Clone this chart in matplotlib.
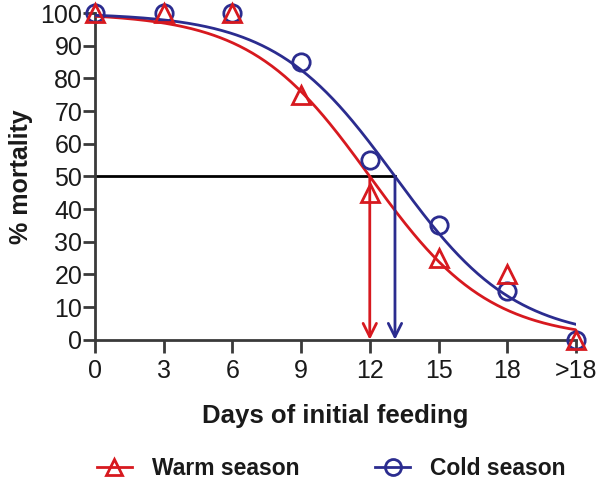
import numpy as np
import matplotlib
matplotlib.use("Agg")
import matplotlib.pyplot as plt
from matplotlib.lines import Line2D

plt.rcParams['font.family'] = ['Liberation Sans', 'DejaVu Sans']

# data
days = [0, 3, 6, 9, 12, 15, 18, 21]
day_labels = ['0', '3', '6', '9', '12', '15', '18', '>18']
warm = [100, 100, 100, 75, 45, 25, 20, 0]
cold = [100, 100, 100, 85, 55, 35, 15, 0]

# fitted logistic curves (midpoint, slope)
warm_fit = (12.0, 0.384)
cold_fit = (13.1, 0.38)

red = '#d7191f'
blue = '#2b2c8f'
ink = '#1a1a1a'


def logistic(x, mid, k):
    return 100.0 / (1.0 + np.exp((x - mid) * k))


fig = plt.figure(figsize=(6, 4.82), dpi=100)
ax = fig.add_axes([0.158, 0.295, 0.802, 0.678])

xs = np.linspace(0, 21, 300)
ax.plot(xs, logistic(xs, *warm_fit), color=red, lw=2, zorder=3)
ax.plot(xs, logistic(xs, *cold_fit), color=blue, lw=2, zorder=3)

ax.plot(days, cold, 'o', ms=12.5, mfc='none', mec=blue, mew=2, clip_on=False, zorder=4)
ax.plot(days, warm, '^', ms=13, mfc='none', mec=red, mew=2, clip_on=False, zorder=5)

# 50 % line and arrows
ax.plot([0, cold_fit[0]], [50, 50], color='black', lw=2, zorder=2)
ax.annotate('', xy=(warm_fit[0], 0), xytext=(warm_fit[0], 50),
            arrowprops=dict(arrowstyle='->', color=red, lw=2, mutation_scale=24,
                            shrinkA=0, shrinkB=0))
ax.annotate('', xy=(cold_fit[0], 0), xytext=(cold_fit[0], 50),
            arrowprops=dict(arrowstyle='->', color=blue, lw=2, mutation_scale=24,
                            shrinkA=0, shrinkB=0))

ax.set_xlim(0, 21)
ax.set_ylim(0, 100)
ax.set_xticks(days)
ax.set_xticklabels(day_labels)
ax.set_yticks(range(0, 101, 10))
for s in ['top', 'right']:
    ax.spines[s].set_visible(False)
for s in ['left', 'bottom']:
    ax.spines[s].set_color('#3a3a3a')
    ax.spines[s].set_linewidth(2)
ax.tick_params(axis='both', direction='out', length=9, width=2, color='#3a3a3a',
               labelsize=18, labelcolor=ink)
ax.tick_params(axis='x', pad=5)
ax.tick_params(axis='y', pad=0)

ax.set_ylabel('% mortality', fontsize=18, fontweight='bold', color=ink, labelpad=5)
ax.set_xlabel('Days of initial feeding', fontsize=18.5, fontweight='bold', color=ink,
              labelpad=15)

handles = [Line2D([], [], color=red, marker='^', ms=12, mfc='none', mew=2, lw=2),
           Line2D([], [], color=blue, marker='o', ms=11.5, mfc='none', mew=2, lw=2)]
fig.legend(handles, ['Warm season', 'Cold season'], loc='center',
           bbox_to_anchor=(0.5525, 0.027), ncol=2, frameon=False, columnspacing=3.3,
           handlelength=1.5, handletextpad=0.9, borderpad=0, borderaxespad=0,
           prop=dict(size=16.5, weight='bold'), labelcolor=ink)

fig.savefig('out.png', dpi=100)
